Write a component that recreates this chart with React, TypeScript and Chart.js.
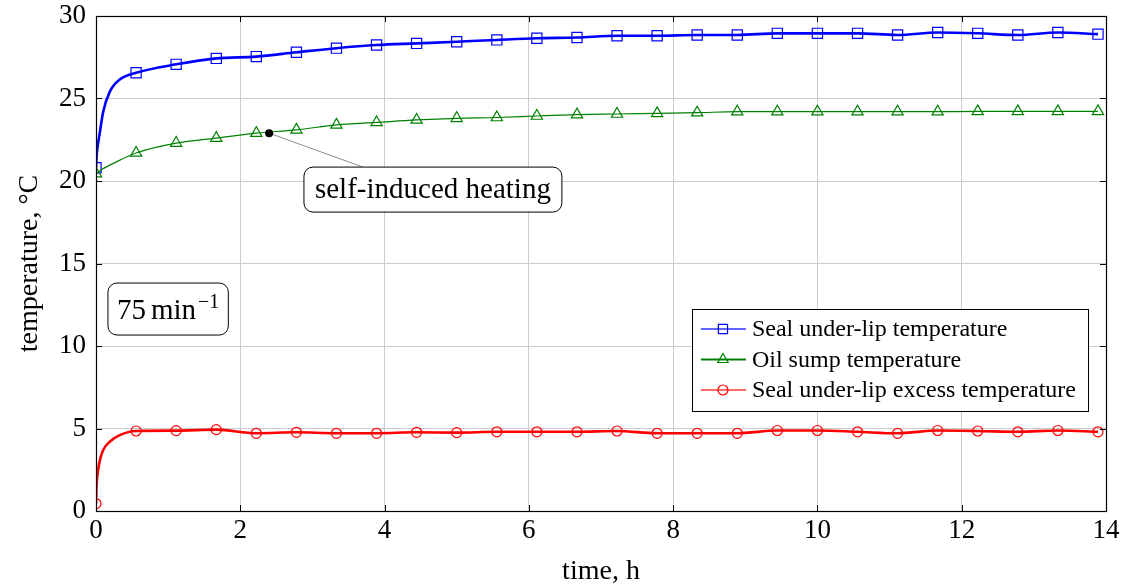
import React, { useEffect, useRef } from "react";
import { Chart, registerables } from "chart.js";

Chart.register(...registerables);

// ---------- data ----------
const markerTimes = [0, 0.556, 1.111, 1.667, 2.222, 2.778, 3.333, 3.889, 4.444, 5.0, 5.556, 6.111, 6.667, 7.222, 7.778, 8.333, 8.889, 9.444, 10.0, 10.556, 11.111, 11.667, 12.222, 12.778, 13.333, 13.889];
const sealMarkers = [20.8, 26.56, 27.07, 27.43, 27.54, 27.8, 28.05, 28.24, 28.34, 28.44, 28.55, 28.65, 28.7, 28.8, 28.8, 28.85, 28.85, 28.95, 28.95, 28.95, 28.85, 29.0, 28.95, 28.85, 29.0, 28.9];
const sumpMarkers = [20.45, 21.7, 22.3, 22.6, 22.9, 23.1, 23.4, 23.55, 23.7, 23.8, 23.85, 23.94, 24.02, 24.06, 24.1, 24.14, 24.2, 24.2, 24.2, 24.2, 24.2, 24.2, 24.22, 24.22, 24.22, 24.22];
const excessMarkers = [0.45, 4.85, 4.87, 4.93, 4.71, 4.77, 4.71, 4.71, 4.77, 4.75, 4.8, 4.8, 4.8, 4.85, 4.71, 4.71, 4.71, 4.88, 4.88, 4.8, 4.71, 4.88, 4.85, 4.8, 4.88, 4.8];

// extra (unmarked) points describing the initial rise
const sealEarlyTimes = [0.01, 0.03, 0.055, 0.1, 0.19, 0.33];
const sealEarly = [21.6, 22.3, 23.0, 24.2, 25.4, 26.15];
const sumpEarlyTimes = [0.1, 0.24];
const sumpEarly = [20.75, 21.07];
const excessEarlyTimes = [0.01, 0.03, 0.055, 0.1, 0.19, 0.33];
const excessEarly = [1.7, 2.5, 3.1, 3.7, 4.2, 4.6];

const seriesLabels = ["Seal under-lip temperature", "Oil sump temperature", "Seal under-lip excess temperature"];
const xTicks = [0, 2, 4, 6, 8, 10, 12, 14];
const yTicks = [0, 5, 10, 15, 20, 25, 30];

// annotations (data coordinates)
const heatingPoint = { x: 2.4, y: 22.9 };
const heatingLabel = "self-induced heating";
const heatingBoxCenter = { x: 4.67, y: 19.48 };
const heatingPointerEndX = 3.7;
const speedValue = "75";
const speedUnit = "min";
const speedExp = "\u22121";
const speedBoxCenter = { x: 1.0, y: 12.24 };

// ---------- helpers ----------
const FONT = '"Liberation Serif", "Times New Roman", serif';

type P = { x: number; y: number; m: boolean };
function buildSeries(mt: number[], mv: number[], et: number[], ev: number[]): P[] {
  const pts: P[] = mt.map((t, i) => ({ x: t, y: mv[i], m: true }));
  et.forEach((t, i) => pts.push({ x: t, y: ev[i], m: false }));
  pts.sort((a, b) => a.x - b.x);
  return pts;
}

function drawMarker(ctx: CanvasRenderingContext2D, style: string, x: number, y: number, r: number) {
  ctx.beginPath();
  if (style === "rect") {
    const s = r * Math.SQRT1_2;
    ctx.rect(x - s, y - s, 2 * s, 2 * s);
  } else if (style === "triangle") {
    let a = 0;
    ctx.moveTo(x + Math.sin(a) * r, y - Math.cos(a) * r);
    a += (2 * Math.PI) / 3;
    ctx.lineTo(x + Math.sin(a) * r, y - Math.cos(a) * r);
    a += (2 * Math.PI) / 3;
    ctx.lineTo(x + Math.sin(a) * r, y - Math.cos(a) * r);
    ctx.closePath();
  } else {
    ctx.arc(x, y, r, 0, Math.PI * 2);
  }
  ctx.stroke();
}

function roundBox(ctx: CanvasRenderingContext2D, x: number, y: number, w: number, h: number, r: number) {
  ctx.beginPath();
  ctx.moveTo(x + r, y);
  ctx.lineTo(x + w - r, y);
  ctx.arcTo(x + w, y, x + w, y + r, r);
  ctx.lineTo(x + w, y + h - r);
  ctx.arcTo(x + w, y + h, x + w - r, y + h, r);
  ctx.lineTo(x + r, y + h);
  ctx.arcTo(x, y + h, x, y + h - r, r);
  ctx.lineTo(x, y + r);
  ctx.arcTo(x, y, x + r, y, r);
  ctx.closePath();
  ctx.fillStyle = "#ffffff";
  ctx.fill();
  ctx.strokeStyle = "#000000";
  ctx.lineWidth = 1;
  ctx.stroke();
}

const legendStyles = [
  { line: "rgba(70,70,255,0.85)", marker: "#0000ff", shape: "rect", r: 6.5, w: 1.6 },
  { line: "#008000", marker: "#008000", shape: "triangle", r: 6, w: 1.2 },
  { line: "rgba(255,80,80,0.85)", marker: "#ff0000", shape: "circle", r: 5, w: 1.6 },
];

const framePlugin = {
  id: "frameAndAnnotations",
  afterDatasetsDraw(chart: any) {
    const { ctx, chartArea: ca, scales } = chart;
    const xs = scales.x, ys = scales.y;
    ctx.save();
    // inner ticks
    ctx.strokeStyle = "#000";
    ctx.lineWidth = 1;
    const tl = 6;
    xTicks.forEach((t) => {
      const px = Math.round(xs.getPixelForValue(t)) + 0.5;
      ctx.beginPath();
      ctx.moveTo(px, ca.bottom);
      ctx.lineTo(px, ca.bottom - tl);
      ctx.moveTo(px, ca.top);
      ctx.lineTo(px, ca.top + tl);
      ctx.stroke();
    });
    yTicks.forEach((v) => {
      const py = Math.round(ys.getPixelForValue(v)) + 0.5;
      ctx.beginPath();
      ctx.moveTo(ca.left, py);
      ctx.lineTo(ca.left + tl, py);
      ctx.moveTo(ca.right, py);
      ctx.lineTo(ca.right - tl, py);
      ctx.stroke();
    });
    // frame
    ctx.strokeStyle = "#000";
    ctx.lineWidth = 1.2;
    ctx.strokeRect(Math.round(ca.left) + 0.5, Math.round(ca.top) + 0.5, Math.round(ca.right - ca.left), Math.round(ca.bottom - ca.top));

    // self-induced heating annotation
    ctx.font = `29px ${FONT}`;
    const tw = ctx.measureText(heatingLabel).width;
    const bw = tw + 22;
    const bh = 45;
    const bcx = xs.getPixelForValue(heatingBoxCenter.x);
    const bcy = ys.getPixelForValue(heatingBoxCenter.y);
    const px = xs.getPixelForValue(heatingPoint.x);
    const py = ys.getPixelForValue(heatingPoint.y);
    ctx.strokeStyle = "#8c8c8c";
    ctx.lineWidth = 1;
    ctx.beginPath();
    ctx.moveTo(px, py);
    ctx.lineTo(xs.getPixelForValue(heatingPointerEndX), bcy - bh / 2);
    ctx.stroke();
    roundBox(ctx, bcx - bw / 2, bcy - bh / 2, bw, bh, 9);
    ctx.fillStyle = "#000";
    ctx.textAlign = "center";
    ctx.textBaseline = "middle";
    ctx.fillText(heatingLabel, bcx, bcy + 1);
    ctx.beginPath();
    ctx.arc(px, py, 4, 0, Math.PI * 2);
    ctx.fillStyle = "#000";
    ctx.fill();

    // speed box
    ctx.font = `29px ${FONT}`;
    const w1 = ctx.measureText(speedValue).width;
    const w2 = ctx.measureText(speedUnit).width;
    ctx.font = `20px ${FONT}`;
    const w3 = ctx.measureText(speedExp).width;
    const gap = 5;
    const total = w1 + gap + w2 + 2 + w3;
    const sbw = total + 18;
    const sbh = 52;
    const scx = xs.getPixelForValue(speedBoxCenter.x);
    const scy = ys.getPixelForValue(speedBoxCenter.y);
    roundBox(ctx, scx - sbw / 2, scy - sbh / 2, sbw, sbh, 9);
    ctx.fillStyle = "#000";
    ctx.textAlign = "left";
    ctx.textBaseline = "alphabetic";
    const base = scy + 10;
    let cx = scx - total / 2;
    ctx.font = `29px ${FONT}`;
    ctx.fillText(speedValue, cx, base);
    cx += w1 + gap;
    ctx.fillText(speedUnit, cx, base);
    cx += w2 + 2;
    ctx.font = `20px ${FONT}`;
    ctx.fillText(speedExp, cx, base - 11);
    ctx.restore();
  },
  afterDraw(chart: any) {
    const { ctx, chartArea: ca } = chart;
    ctx.save();
    ctx.font = `24px ${FONT}`;
    const maxW = Math.max(...seriesLabels.map((s) => ctx.measureText(s).width));
    const w = 60 + maxW + 12;
    const h = 102;
    const right = ca.right - 18;
    const left = right - w;
    const top = ca.top + 293;
    ctx.fillStyle = "#fff";
    ctx.fillRect(left, top, w, h);
    ctx.strokeStyle = "#000";
    ctx.lineWidth = 1;
    ctx.strokeRect(Math.round(left) + 0.5, Math.round(top) + 0.5, Math.round(w), h);
    seriesLabels.forEach((lab, i) => {
      const cy = top + 20 + i * 30.5;
      const st = legendStyles[i];
      ctx.strokeStyle = st.line;
      ctx.lineWidth = 1.8;
      ctx.beginPath();
      ctx.moveTo(left + 9, cy);
      ctx.lineTo(left + 54, cy);
      ctx.stroke();
      ctx.strokeStyle = st.marker;
      ctx.lineWidth = 1.2;
      drawMarker(ctx, st.shape, left + 31, cy, st.r);
      ctx.fillStyle = "#000";
      ctx.textAlign = "left";
      ctx.textBaseline = "middle";
      ctx.fillText(lab, left + 60, cy + 1);
    });
    ctx.restore();
  },
};

export default function App() {
  const ref = useRef<HTMLCanvasElement>(null);
  useEffect(() => {
    document.body.style.margin = "0";
    const canvas = ref.current!;
    Chart.defaults.font.family = FONT;
    Chart.defaults.color = "#000";

    const seal = buildSeries(markerTimes, sealMarkers, sealEarlyTimes, sealEarly);
    const sump = buildSeries(markerTimes, sumpMarkers, sumpEarlyTimes, sumpEarly);
    const excess = buildSeries(markerTimes, excessMarkers, excessEarlyTimes, excessEarly);

    const mk = (r: number) => (c: any) => (c.raw && c.raw.m ? r : 0);

    const chart = new Chart(canvas, {
      type: "line",
      data: {
        datasets: [
          {
            label: seriesLabels[2],
            data: excess as any,
            borderColor: "#ff0000",
            borderWidth: 2.6,
            pointStyle: "circle",
            pointRadius: mk(5) as any,
            pointBorderColor: "#ff0000",
            pointBackgroundColor: "rgba(0,0,0,0)",
            pointBorderWidth: 1.2,
            cubicInterpolationMode: "monotone",
          },
          {
            label: seriesLabels[1],
            data: sump as any,
            borderColor: "#008000",
            borderWidth: 1.2,
            pointStyle: "triangle",
            pointRadius: mk(6.5) as any,
            pointBorderColor: "#008000",
            pointBackgroundColor: "rgba(0,0,0,0)",
            pointBorderWidth: 1.2,
            cubicInterpolationMode: "monotone",
          },
          {
            label: seriesLabels[0],
            data: seal as any,
            borderColor: "#0000ff",
            borderWidth: 2.6,
            pointStyle: "rect",
            pointRadius: mk(7.2) as any,
            pointBorderColor: "#0000ff",
            pointBackgroundColor: "rgba(0,0,0,0)",
            pointBorderWidth: 1.2,
            cubicInterpolationMode: "monotone",
          },
        ],
      },
      options: {
        animation: false,
        responsive: false,
        devicePixelRatio: 1,
        parsing: { xAxisKey: "x", yAxisKey: "y" },
        layout: { padding: { top: 16, right: 22, left: 0, bottom: 0 } },
        plugins: { legend: { display: false }, tooltip: { enabled: false } },
        scales: {
          x: {
            type: "linear",
            min: 0,
            max: 14,
            afterBuildTicks: (s: any) => {
              s.ticks = xTicks.map((v) => ({ value: v }));
            },
            ticks: { font: { size: 27 }, color: "#000", padding: 4, maxRotation: 0, autoSkip: false },
            grid: { color: "#cccccc", drawTicks: false, lineWidth: 1 },
            border: { display: false },
            title: { display: true, text: "time, h", font: { size: 28 }, color: "#000", padding: { top: 0, bottom: 0 } },
            afterFit: (s: any) => {
              s.height = 77;
              s.paddingLeft = 0;
              s.paddingRight = 0;
            },
          },
          y: {
            type: "linear",
            min: 0,
            max: 30,
            afterBuildTicks: (s: any) => {
              s.ticks = yTicks.map((v) => ({ value: v }));
            },
            ticks: { font: { size: 27 }, color: "#000", padding: 10 },
            grid: { color: "#cccccc", drawTicks: false, lineWidth: 1 },
            border: { display: false },
            title: { display: true, text: "temperature, \u00B0C", font: { size: 28 }, color: "#000", padding: { top: 13, bottom: 0 } },
            afterFit: (s: any) => {
              s.width = 96;
              s.paddingTop = 0;
              s.paddingBottom = 0;
            },
          },
        },
      },
      plugins: [framePlugin],
    } as any);
    return () => chart.destroy();
  }, []);
  return (
    <div style={{ width: 1128, height: 588 }}>
      <canvas ref={ref} width={1128} height={588} style={{ display: "block" }} />
    </div>
  );
}
